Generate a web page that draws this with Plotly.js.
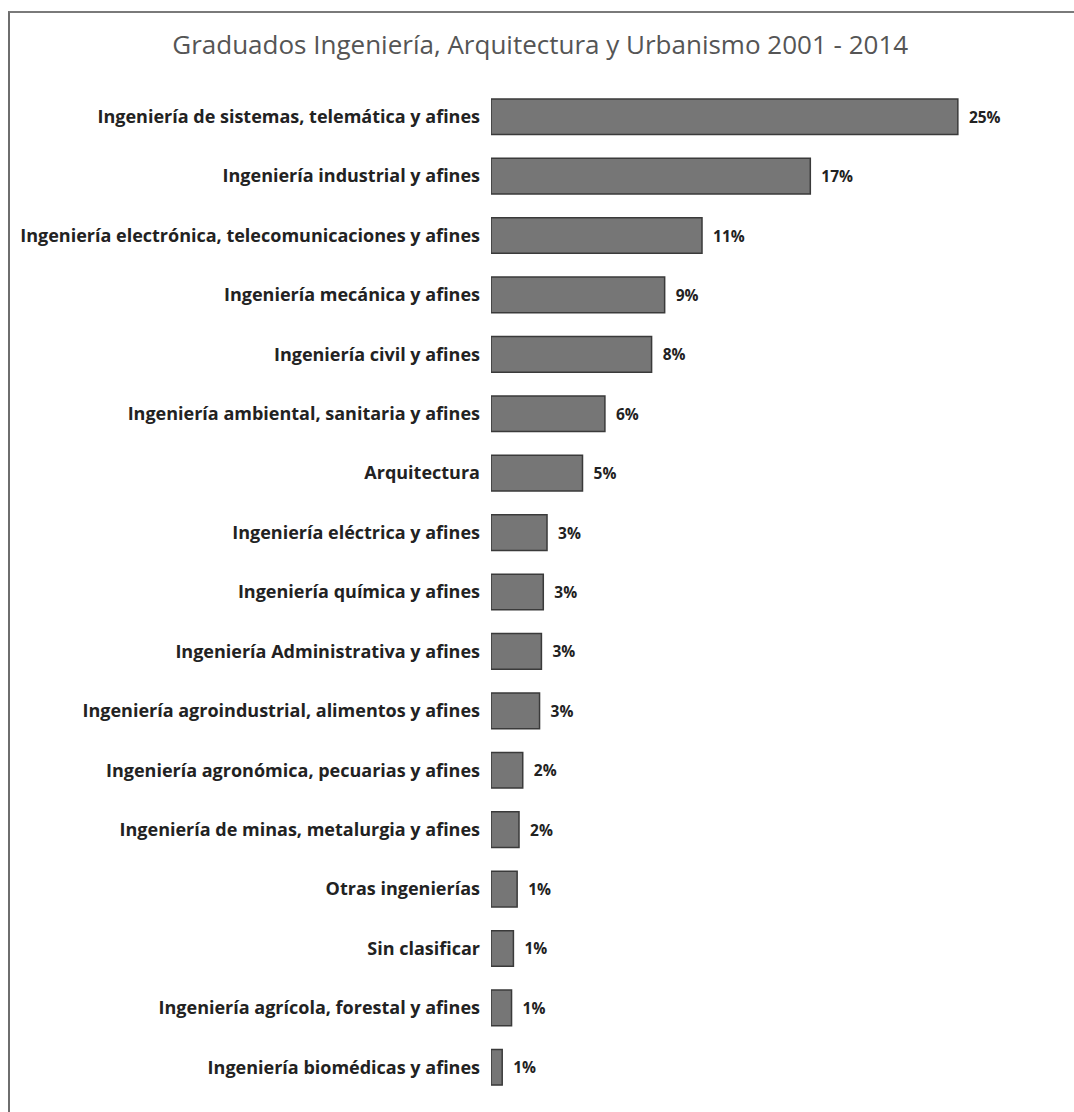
<!DOCTYPE html>
<html>
<head>
<meta charset="utf-8">
<script src="https://cdn.plot.ly/plotly-3.0.1.min.js"></script>
<style>
  html, body { margin: 0; padding: 0; background: #ffffff; }
  #wrap { position: relative; width: 1074px; height: 1112px; overflow: hidden; }
  #chart { position: absolute; left: 0; top: 0; width: 1074px; height: 1112px; }
  #frame { position: absolute; left: 8px; top: 11px; width: 1100px; height: 1200px;
           border-left: 2px solid #6e6e6e; border-top: 2px solid #7a7a7a; pointer-events: none; }
</style>
</head>
<body>
<div id="wrap">
  <div id="chart"></div>
  <div id="frame"></div>
</div>
<script>
// Categories (top to bottom as in the reference)
const categories = [
  "Ingeniería de sistemas, telemática y afines",
  "Ingeniería industrial y afines",
  "Ingeniería electrónica, telecomunicaciones y afines",
  "Ingeniería mecánica y afines",
  "Ingeniería civil y afines",
  "Ingeniería ambiental, sanitaria y afines",
  "Arquitectura",
  "Ingeniería eléctrica y afines",
  "Ingeniería química y afines",
  "Ingeniería Administrativa y afines",
  "Ingeniería agroindustrial, alimentos y afines",
  "Ingeniería agronómica, pecuarias y afines",
  "Ingeniería de minas, metalurgia y afines",
  "Otras ingenierías",
  "Sin clasificar",
  "Ingeniería agrícola, forestal y afines",
  "Ingeniería biomédicas y afines"
];
// Share of graduates (%)
const shares = [25.0, 17.1, 11.3, 9.3, 8.6, 6.1, 4.9, 3.0, 2.8, 2.7, 2.6, 1.7, 1.5, 1.4, 1.2, 1.1, 0.6];
// Printed value labels
const valueLabels = ["25%", "17%", "11%", "9%", "8%", "6%", "5%", "3%", "3%", "3%", "3%", "2%", "2%", "1%", "1%", "1%", "1%"];
const chartTitle = "Graduados Ingeniería, Arquitectura y Urbanismo 2001 - 2014";

const trace = {
  type: "bar",
  orientation: "h",
  x: shares,
  y: categories,
  text: valueLabels,
  texttemplate: "  %{text}",
  textposition: "outside",
  cliponaxis: false,
  textfont: { family: "'Open Sans', 'DejaVu Sans', sans-serif", size: 15.5, color: "#222222", weight: "bold" },
  width: 0.6,
  marker: {
    color: "#767676",
    line: { color: "#3a3a3a", width: 1.5 }
  },
  hoverinfo: "skip"
};

const layout = {
  width: 1074,
  height: 1112,
  paper_bgcolor: "#ffffff",
  plot_bgcolor: "#ffffff",
  margin: { l: 491, r: 34, t: 87, b: 15 },
  showlegend: false,
  title: {
    text: chartTitle,
    x: 0.503,
    xref: "container",
    xanchor: "center",
    y: 1 - 45 / 1112,
    yref: "container",
    yanchor: "middle",
    font: { family: "'Open Sans', 'DejaVu Sans', sans-serif", size: 26, color: "#555555" }
  },
  xaxis: {
    range: [0, 29.4],
    visible: false,
    showgrid: false,
    zeroline: false,
    fixedrange: true
  },
  yaxis: {
    type: "category",
    autorange: "reversed",
    showgrid: false,
    zeroline: false,
    showline: false,
    ticks: "",
    ticklabelstandoff: 10,
    automargin: false,
    tickfont: { family: "'Open Sans', 'DejaVu Sans', sans-serif", size: 18, color: "#222222", weight: "bold" },
    fixedrange: true
  }
};

Plotly.newPlot("chart", [trace], layout, { displayModeBar: false, staticPlot: true });
</script>
</body>
</html>
